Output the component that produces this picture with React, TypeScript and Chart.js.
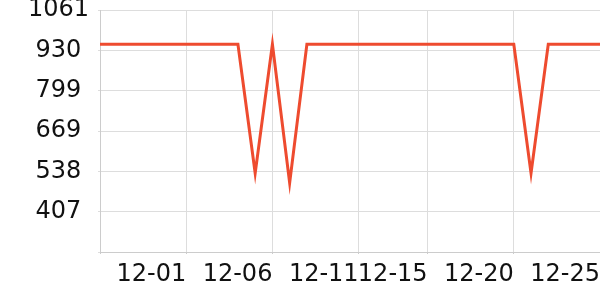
import React, { useEffect, useRef } from "react";
import { Chart, registerables } from "chart.js";

Chart.register(...registerables);

const dates = [
  "11-26", "11-27", "11-28", "11-29", "11-30", "12-01", "12-02", "12-03", "12-04", "12-05",
  "12-06", "12-07", "12-08", "12-09", "12-10", "12-11", "12-12", "12-13", "12-14", "12-15",
  "12-16", "12-17", "12-18", "12-19", "12-20", "12-21", "12-22", "12-23", "12-24", "12-25",
];
const values = [
  950, 950, 950, 950, 950, 950, 950, 950, 950, 532,
  950, 500, 950, 950, 950, 950, 950, 950, 950, 950,
  950, 950, 950, 950, 950, 532, 950, 950, 950, 950,
];
const shownDates = ["12-01", "12-06", "12-11", "12-15", "12-20", "12-25"];
const yMin = 276;
const yMax = 1061;
const ySteps = 6;

const FONT = { family: "'DejaVu Sans', sans-serif", size: 24 };

export default function App() {
  const ref = useRef<HTMLCanvasElement>(null);
  useEffect(() => {
    document.body.style.margin = "0";
    const isShown = (i: number) => shownDates.includes(dates[i]) && i !== dates.length - 1;
    const chart = new Chart(ref.current!, {
      type: "line",
      data: {
        labels: dates,
        datasets: [
          {
            data: values,
            borderColor: "#ee4b2f",
            borderWidth: 3,
            pointRadius: 0,
            tension: 0,
            fill: false,
          },
        ],
      },
      options: {
        animation: false,
        responsive: false,
        layout: { padding: { top: 10, left: 0, right: 0, bottom: 0 } },
        plugins: { legend: { display: false }, tooltip: { enabled: false } },
        scales: {
          x: {
            type: "category",
            offset: false,
            grid: {
              color: (ctx: any) => (isShown(ctx.index) ? "#dddddd" : "rgba(0,0,0,0)"),
              tickColor: (ctx: any) =>
                isShown(ctx.index) || ctx.index === 0 ? "#cccccc" : "rgba(0,0,0,0)",
              tickLength: 2,
            },
            border: { color: "#cccccc" },
            ticks: {
              autoSkip: false,
              maxRotation: 0,
              minRotation: 0,
              align: "end",
              padding: 6,
              color: "#111",
              font: FONT,
              callback: (_v: any, i: number) => (shownDates.includes(dates[i]) ? dates[i] : ""),
            },
            afterFit: (s: any) => {
              s.height = 48;
              s.paddingLeft = 0;
              s.paddingRight = 0;
            },
          },
          y: {
            min: yMin,
            max: yMax,
            grid: { color: "#dddddd", tickLength: 2, tickColor: "#dddddd" },
            border: { color: "#cccccc" },
            afterBuildTicks: (s: any) => {
              const step = (yMax - yMin) / ySteps;
              const t = [];
              for (let k = 0; k <= ySteps; k++) t.push({ value: yMin + k * step });
              s.ticks = t;
            },
            ticks: {
              crossAlign: "center",
              padding: 9,
              color: "#111",
              font: FONT,
              callback: (v: any) => (Math.abs(v - yMin) < 1e-6 ? "" : String(Math.round(v))),
            },
            afterFit: (s: any) => {
              s.width = 100;
              s.paddingTop = 0;
              s.paddingBottom = 0;
            },
          },
        },
      },
    });
    return () => chart.destroy();
  }, []);
  return <canvas ref={ref} width={600} height={300} style={{ display: "block" }} />;
}
